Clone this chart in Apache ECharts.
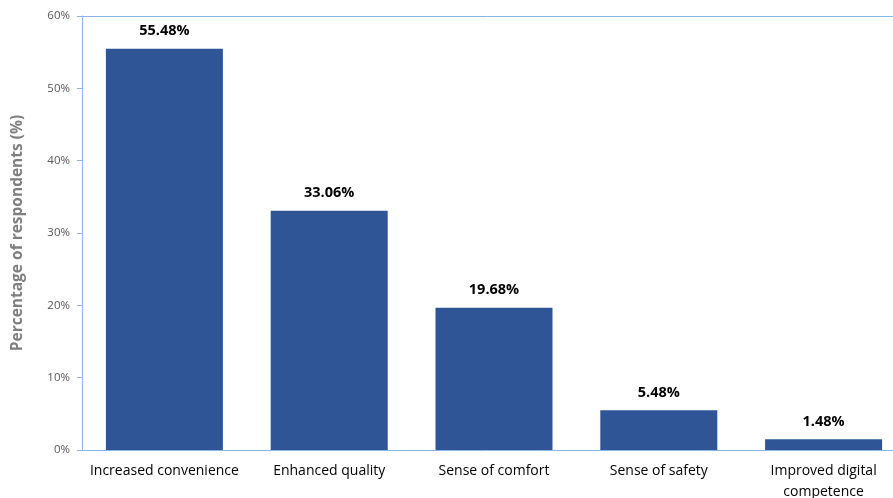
<!DOCTYPE html>
<html><head><meta charset="utf-8">
<script src="https://cdn.jsdelivr.net/npm/echarts@6/dist/echarts.min.js"></script>
<style>html,body{margin:0;padding:0;background:#fff}#c{width:893px;height:498px}</style>
</head><body><div id="c"></div>
<script>
const categories = ['Increased convenience','Enhanced quality','Sense of comfort','Sense of safety','Improved digital\ncompetence'];
const values = [55.48, 33.06, 19.68, 5.48, 1.48];
const yTicks = [0,10,20,30,40,50,60];

const chart = echarts.init(document.getElementById('c'));
const axisColor = '#8EB4E3';
const fontFam = '"Open Sans", "Liberation Sans", sans-serif';
chart.setOption({
  animation:false,
  grid:{left:82,right:-13,top:16,bottom:48,containLabel:false,outerBoundsMode:'none'},
  xAxis:[{
    type:'category', data:categories,
    axisLine:{show:true,lineStyle:{color:axisColor,width:1}},
    axisTick:{show:false},
    axisLabel:{color:'#000',fontSize:14,fontFamily:fontFam,margin:11,lineHeight:21,interval:0}
  },{
    type:'category', data:categories, position:'top',
    axisLine:{show:true,lineStyle:{color:axisColor,width:1}},
    axisTick:{show:false}, axisLabel:{show:false}
  }],
  yAxis:{
    type:'value', min:yTicks[0], max:yTicks[yTicks.length-1], interval:10,
    name:'Percentage of respondents (%)', nameLocation:'middle', nameGap:56,
    nameTextStyle:{color:'#7F7F7F',fontSize:15.5,fontWeight:'bold',fontFamily:fontFam},
    axisLine:{show:true,lineStyle:{color:axisColor,width:1}},
    axisTick:{show:true,length:5,lineStyle:{color:axisColor}},
    splitLine:{show:false},
    axisLabel:{color:'#595959',fontSize:11.5,fontFamily:fontFam,margin:12,formatter:v=>v+'%'}
  },
  series:[{
    type:'bar', data:values, barWidth:'71%',
    itemStyle:{color:'#2F5597'},
    label:{show:true,position:'top',distance:10,color:'#000',fontWeight:'bold',fontSize:14.5,fontFamily:fontFam,formatter:p=>p.value.toFixed(2)+'%'}
  }]
});
</script></body></html>
